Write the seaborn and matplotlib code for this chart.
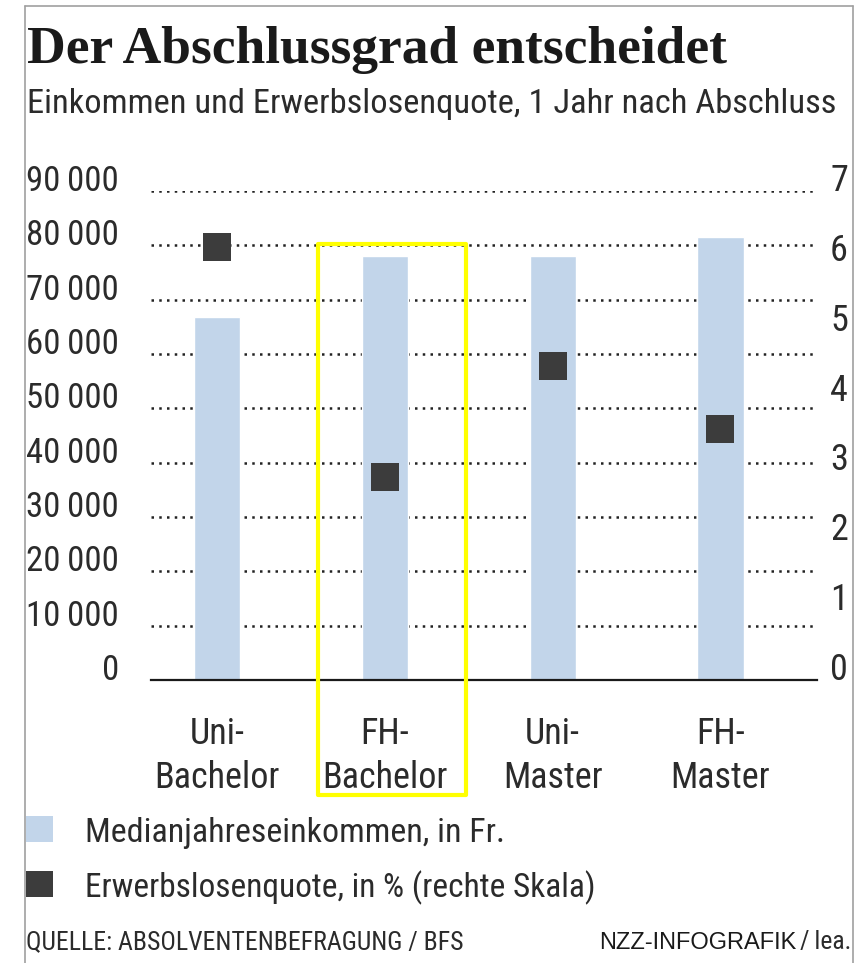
import matplotlib
matplotlib.use('Agg')
import matplotlib.pyplot as plt
import seaborn as sns
import numpy as np
import pandas as pd
from matplotlib import font_manager
from matplotlib.patches import Rectangle
from matplotlib.lines import Line2D

# Daten
categories = ['Uni-Bachelor', 'FH-Bachelor', 'Uni-Master', 'FH-Master']
tick_labels = ['Uni-\nBachelor', 'FH-\nBachelor', 'Uni-\nMaster', 'FH-\nMaster']
einkommen = [66800, 78000, 78000, 81500]
quote = [6.2, 2.9, 4.5, 3.6]
left_ticks = [0, 10000, 20000, 30000, 40000, 50000, 60000, 70000, 80000, 90000]
right_ticks = [0, 1, 2, 3, 4, 5, 6, 7]

BAR = '#c2d5ea'
SQ = '#3c3c3c'
TXT = '#2b2b2b'

sns.set_style('white')

# schmale Schrift suchen
names = {f.name for f in font_manager.fontManager.ttflist}
narrow = None
for cand in ['Roboto Condensed', 'Liberation Sans Narrow', 'Open Sans Condensed']:
    if cand in names:
        narrow = cand
        break
stretch = 'normal'
if narrow is None:
    if any(f.name == 'DejaVu Sans' and 'condensed' in str(f.stretch) for f in font_manager.fontManager.ttflist):
        narrow = 'DejaVu Sans'
        stretch = 'condensed'
    else:
        narrow = 'Roboto'
plt.rcParams['font.family'] = [narrow, 'DejaVu Sans']
plt.rcParams['font.stretch'] = stretch

W, H = 863, 963
fig = plt.figure(figsize=(W / 100, H / 100), dpi=100)


def fx(px):
    return px / W


def fy(py):
    return 1 - py / H


ax = fig.add_axes([fx(151), fy(680), fx(817) - fx(151), fy(191) - fy(680)])
df = pd.DataFrame({'kat': categories, 'einkommen': einkommen, 'quote': quote})

sns.barplot(data=df, x='kat', y='einkommen', color=BAR, saturation=1,
            width=0.275, ax=ax, zorder=2)

twin = ax.twinx()
sns.pointplot(data=df, x='kat', y='quote', ax=twin, color=SQ, markers='s',
              linestyle='none', markersize=20, markeredgewidth=0, errorbar=None)

ax.set_xlim(-0.393, 3.575)
ax.set_ylim(0, 90000)
twin.set_ylim(0, 7)

ax.set_yticks(left_ticks)
ax.set_yticklabels([f'{v:,}'.replace(',', '\u2009') for v in left_ticks])
twin.set_yticks(right_ticks)
twin.set_yticklabels([str(v) for v in right_ticks])
ax.set_xticks(range(len(tick_labels)))
ax.set_xticklabels(tick_labels, linespacing=1.28)

for a in (ax, twin):
    a.set_xlabel('')
    a.set_ylabel('')
    for s in a.spines.values():
        s.set_visible(False)
ax.spines['bottom'].set_visible(True)
ax.spines['bottom'].set_color('#1a1a1a')
ax.spines['bottom'].set_linewidth(1.6)
ax.spines['bottom'].set_zorder(3)

ax.yaxis.grid(True, linestyle=(0, (1, 2.1)), linewidth=1.8, color='#222222')
ax.xaxis.grid(False)
twin.grid(False)
ax.set_axisbelow(True)

ax.tick_params(axis='y', length=0, pad=23, labelsize=25, labelcolor=TXT)
ax.tick_params(axis='x', length=0, pad=26, labelsize=26, labelcolor=TXT)
twin.tick_params(axis='y', length=0, pad=9.4, labelsize=26, labelcolor=TXT)
for lab in ax.get_yticklabels() + twin.get_yticklabels():
    lab.set_verticalalignment('baseline')

# Rahmen
frame_kw = dict(transform=fig.transFigure, color='#a0a0a0', lw=1.2)
fig.add_artist(Line2D([fx(25), fx(25)], [fy(6), 0], **frame_kw))
fig.add_artist(Line2D([fx(853), fx(853)], [fy(6), 0], **frame_kw))
fig.add_artist(Line2D([fx(25), fx(853)], [fy(6), fy(6)], **frame_kw))

# gelbe Markierung
fig.add_artist(Rectangle((fx(318), fy(795)), fx(466) - fx(318), fy(244) - fy(795),
                         transform=fig.transFigure, fill=False, ec='#ffff00',
                         lw=3.0, joinstyle='round'))

# Titel
fig.text(fx(27), fy(63), 'Der Abschlussgrad entscheidet', family='Liberation Serif',
         weight='bold', size=38.5, color='#1a1a1a', va='baseline', ha='left')
fig.text(fx(27), fy(113), 'Einkommen und Erwerbslosenquote, 1 Jahr nach Abschluss',
         size=24.8, color=TXT, va='baseline', ha='left')

# Legende
fig.add_artist(Rectangle((fx(26), fy(842)), fx(53) - fx(26), 26 / H,
                         transform=fig.transFigure, color=BAR, lw=0))
fig.add_artist(Rectangle((fx(26), fy(897)), fx(53) - fx(26), 26 / H,
                         transform=fig.transFigure, color=SQ, lw=0))
fig.text(fx(85), fy(842), 'Medianjahreseinkommen, in Fr.', size=24.5, color=TXT,
         va='baseline', ha='left')
fig.text(fx(85), fy(897), 'Erwerbslosenquote, in % (rechte Skala)', size=24, color=TXT,
         va='baseline', ha='left')

# Fusszeile
fig.text(fx(26), fy(949), 'QUELLE: ABSOLVENTENBEFRAGUNG / BFS', size=18.5, color=TXT,
         va='baseline', ha='left')
fig.text(fx(851), fy(949), '/\u2009lea.', size=18.5, color=TXT, va='baseline', ha='right')
fig.text(fx(796), fy(949), 'NZZ-INFOGRAFIK', family='Liberation Sans', size=17,
         color='#1a1a1a', va='baseline', ha='right')

fig.savefig('out.png', dpi=100)
